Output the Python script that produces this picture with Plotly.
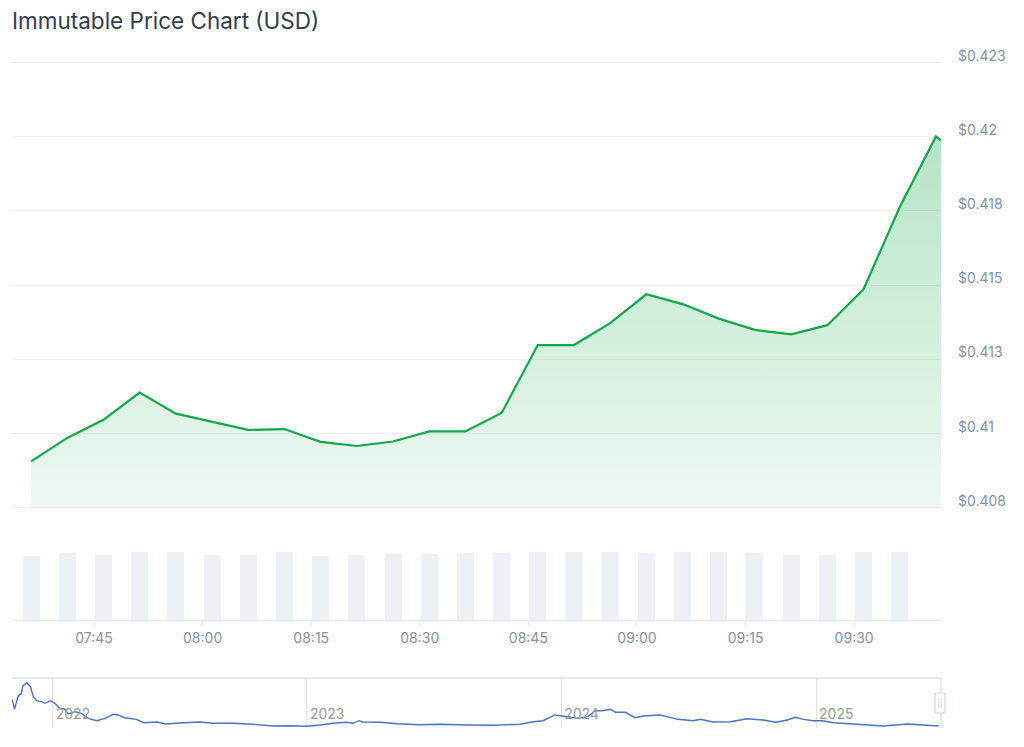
import plotly.graph_objects as go

# ---------------- data ----------------
title_text = "Immutable Price Chart (USD)"
day = "2025-06-29"

times = ["07:36:18", "07:41:18", "07:46:18", "07:51:18", "07:56:18", "08:01:18",
         "08:06:18", "08:11:18", "08:16:18", "08:21:18", "08:26:18", "08:31:18",
         "08:36:18", "08:41:18", "08:46:18", "08:51:18", "08:56:18", "09:01:18",
         "09:06:18", "09:11:18", "09:16:18", "09:21:18", "09:26:18", "09:31:18",
         "09:36:18", "09:41:18", "09:42:00"]

prices = [0.40906, 0.40985, 0.41046, 0.41138, 0.41067, 0.41040, 0.41012, 0.41015,
          0.40972, 0.40958, 0.40973, 0.41007, 0.41007, 0.41069, 0.41298, 0.41298,
          0.41372, 0.41469, 0.41436, 0.41387, 0.41349, 0.41334, 0.41365, 0.41486,
          0.41763, 0.42001, 0.41988]

# volume (USD millions) for the first 25 intervals
volumes = [31.85, 33.65, 32.5, 34.15, 34.15, 32.5, 32.5, 34.15, 31.85, 32.5, 33.0, 33.0,
           33.65, 33.65, 34.15, 34.15, 34.15, 33.65, 34.15, 34.15, 33.65, 32.5, 32.5,
           34.15, 34.15]

price_tickvals = [0.4075, 0.41, 0.4125, 0.415, 0.4175, 0.42, 0.4225]
price_ticktext = ["$0.408", "$0.41", "$0.413", "$0.415", "$0.418", "$0.42", "$0.423"]
volume_range = [0, 45]
main_range = ["07:33:40", "09:42:00"]

# navigator (full history)
nav_dates = ["2021-11-04", "2021-11-07", "2021-11-12", "2021-11-17", "2021-11-19",
             "2021-11-25", "2021-11-30", "2021-12-04", "2021-12-09", "2021-12-16",
             "2021-12-21", "2021-12-29", "2022-01-04", "2022-01-11", "2022-01-18",
             "2022-01-23", "2022-02-02", "2022-02-11", "2022-02-21", "2022-03-05",
             "2022-03-17", "2022-03-29", "2022-04-05", "2022-04-14", "2022-05-01",
             "2022-05-12", "2022-05-30", "2022-06-13", "2022-07-02", "2022-07-21",
             "2022-07-31", "2022-08-19", "2022-09-17", "2022-10-15", "2022-11-13",
             "2022-12-08", "2023-01-01", "2023-01-20", "2023-02-07", "2023-02-27",
             "2023-03-08", "2023-03-17", "2023-03-22", "2023-04-16", "2023-05-10",
             "2023-06-12", "2023-07-11", "2023-08-19", "2023-09-25", "2023-11-03",
             "2023-11-22", "2023-12-06", "2023-12-23", "2024-01-10", "2024-01-25",
             "2024-02-08", "2024-02-19", "2024-02-29", "2024-03-12", "2024-03-19",
             "2024-04-02", "2024-04-16", "2024-04-28", "2024-05-22", "2024-06-17",
             "2024-07-09", "2024-07-19", "2024-08-06", "2024-08-31", "2024-09-24",
             "2024-10-17", "2024-11-04", "2024-11-21", "2024-12-02", "2024-12-14",
             "2024-12-28", "2025-01-10", "2025-01-26", "2025-02-19", "2025-03-16",
             "2025-04-08", "2025-05-12", "2025-06-04", "2025-06-26"]
nav_prices = [6.02, 3.92, 6.56, 7.28, 8.81, 9.50, 8.66, 6.56, 5.73, 5.52,
              5.18, 5.73, 5.18, 4.13, 3.98, 2.94, 3.42, 3.08, 2.03, 1.53,
              2.03, 2.87, 2.73, 2.16, 1.82, 1.11, 1.26, 0.84, 1.05, 1.11,
              1.26, 0.99, 0.99, 0.78, 0.42, 0.48, 0.36, 0.63, 0.99, 1.20,
              0.99, 1.53, 1.26, 1.20, 0.90, 0.69, 0.78, 0.63, 0.57, 0.78,
              1.32, 1.53, 2.73, 2.37, 2.03, 2.37, 3.63, 3.63, 3.92, 3.29,
              3.29, 2.16, 2.52, 2.73, 1.82, 1.53, 1.82, 1.26, 1.32, 1.95,
              1.68, 1.20, 1.68, 2.24, 1.82, 1.53, 1.53, 1.11, 0.84, 0.63,
              0.42, 0.84, 0.63, 0.42]
nav_range = ["2021-11-03 12:00", "2025-06-29 09:42"]
nav_price_range = [0, 10.485]

# ---------------- styling / layout ----------------
# the page body adds an 8px margin, so the figure is offset by that much
OX, OY = 8, 8
FW, FH = 1024 - 2 * OX, 747 - 2 * OY
L_PX, R_PX = 12, 941           # plot left/right edge in page pixels

def dom(top_px, bottom_px):
    return [1 - (bottom_px - OY) / FH, 1 - (top_px - OY) / FH]

# price pane: gridline 0.4075 at y=507.7, 0.4225 at y=62.5; pad 3px each side
p_lo, p_hi = price_tickvals[0], price_tickvals[-1]
px_per_val = (507.7 - 62.5) / (p_hi - p_lo)
pad = 3
price_range = [p_lo - pad / px_per_val, p_hi + pad / px_per_val]

GREEN = "#10a849"
TICK = "#8791a4"
FONT = "Inter"

x_main = [f"{day} {t}" for t in times]
bar_width_ms = 141000

fig = go.Figure()

# baseline for the area fill (the axis minimum)
fig.add_trace(go.Scatter(
    x=x_main, y=[p_lo] * len(x_main), mode="lines",
    line=dict(width=0, color="rgba(0,0,0,0)"), hoverinfo="skip",
    xaxis="x", yaxis="y"))

fig.add_trace(go.Scatter(
    x=x_main, y=prices, mode="lines",
    line=dict(color=GREEN, width=2.2),
    fill="tonexty",
    fillgradient=dict(type="vertical",
                      colorscale=[[0, "rgba(16,168,73,0.07)"], [1, "rgba(16,168,73,0.31)"]],
                      start=p_lo, stop=max(prices)),
    xaxis="x", yaxis="y", hoverinfo="x+y"))

fig.add_trace(go.Bar(
    x=x_main[:len(volumes)], y=volumes, width=bar_width_ms,
    marker=dict(color="#edf0f4", line=dict(width=0)),
    xaxis="x2", yaxis="y2"))

fig.add_trace(go.Scatter(
    x=nav_dates, y=nav_prices, mode="lines",
    line=dict(color="#4a73c6", width=1.4),
    xaxis="x3", yaxis="y3", hoverinfo="skip"))

main_x_range = [f"{day} {main_range[0]}", f"{day} {main_range[1]}"]

fig.update_layout(
    width=FW, height=FH,
    margin=dict(l=L_PX - OX, r=FW - (R_PX - OX), t=0, b=0, autoexpand=False),
    paper_bgcolor="white", plot_bgcolor="white",
    showlegend=False, bargap=0,
    font=dict(family=FONT, color=TICK, size=14),
    title=dict(text=title_text, x=0, xref="paper", xanchor="left",
               y=1 - (21 - OY) / FH, yref="container", yanchor="middle",
               font=dict(family=FONT, size=22.5, color="#323c4d")),
    xaxis=dict(domain=[0, 1], anchor="y", type="date", range=main_x_range,
               showticklabels=False, showgrid=False, zeroline=False, showline=False,
               ticks="", automargin=False),
    yaxis=dict(domain=dom(62.5 - pad, 507.7 + pad), anchor="x", range=price_range,
               side="right", tickmode="array", tickvals=price_tickvals,
               ticktext=price_ticktext,
               showgrid=True, gridcolor="#eef0f3", gridwidth=1, zeroline=False,
               showline=False, ticks="", ticklabelposition="outside top",
               ticklabelstandoff=16, ticklabelshift=3, automargin=False,
               tickfont=dict(size=14, color=TICK)),
    xaxis2=dict(domain=[0, 1], anchor="y2", type="date", range=main_x_range,
                tickformat="%H:%M", dtick=900000, tick0=f"{day} 07:45",
                ticks="outside", ticklen=5, tickcolor="#e6e9ee",
                showline=True, linecolor="#e6e9ee", linewidth=1,
                showgrid=False, zeroline=False, automargin=False,
                tickfont=dict(size=14, color=TICK)),
    yaxis2=dict(domain=dom(530, 620), anchor="x2", range=volume_range, visible=False,
                automargin=False),
    xaxis3=dict(domain=[0, 1], anchor="y3", type="date", range=nav_range,
                dtick="M12", tick0="2022-01-01", tickformat="%Y",
                showgrid=True, gridcolor="#e3e3e3", gridwidth=1,
                ticks="", showline=False, zeroline=False, automargin=False,
                ticklabelposition="inside right", ticklabelshift=3,
                tickfont=dict(size=14, color="#9a9a9a")),
    yaxis3=dict(domain=dom(678, 728), anchor="x3", range=nav_price_range, visible=False,
                automargin=False),
)

# navigator outline and handle (paper coordinates)
outline = "#cfd6e1"
pw = R_PX - L_PX

def pxx(xp):
    return (xp - L_PX) / pw

def pxy(yp):
    return 1 - (yp - OY) / FH

fig.add_shape(type="line", xref="paper", yref="paper", x0=0, x1=1,
              y0=pxy(678), y1=pxy(678), line=dict(color=outline, width=1))
fig.add_shape(type="line", xref="paper", yref="paper", x0=1, x1=1,
              y0=pxy(728), y1=pxy(678), line=dict(color=outline, width=1))
fig.add_shape(type="rect", xref="paper", yref="paper",
              x0=pxx(935), x1=pxx(945), y0=pxy(713), y1=pxy(693),
              fillcolor="white", line=dict(color=outline, width=1.2))
for hx in (938.8, 941.2):
    fig.add_shape(type="line", xref="paper", yref="paper", x0=pxx(hx), x1=pxx(hx),
                  y0=pxy(708), y1=pxy(698), line=dict(color=outline, width=1))

fig.write_html("out.html")
